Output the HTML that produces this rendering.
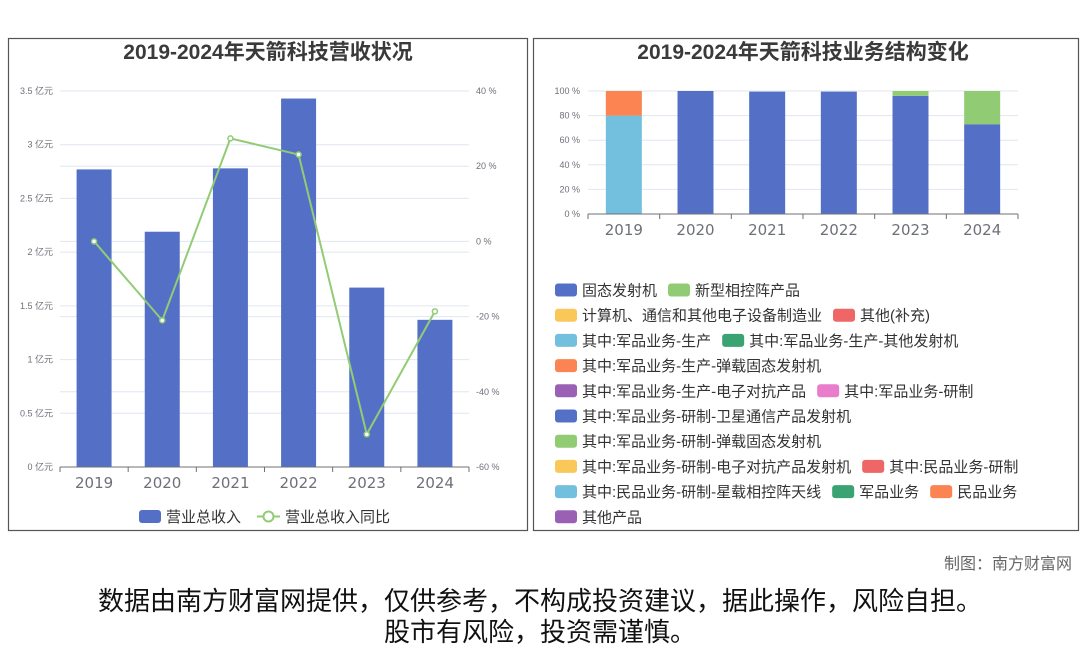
<!DOCTYPE html>
<html><head><meta charset="utf-8"><style>
html,body{margin:0;padding:0;background:#fff;}
body{width:1080px;height:646px;position:relative;overflow:hidden;font-family:"Liberation Sans","Noto Sans CJK SC",sans-serif;}
svg{position:absolute;left:0;top:0;}
.foot{position:absolute;left:0;width:1080px;text-align:center;color:#111;font-size:26px;font-family:"Liberation Sans","Noto Sans CJK SC",sans-serif;}
</style></head><body>
<svg id="svg" width="1080" height="646" font-family="Liberation Sans, Noto Sans CJK SC, sans-serif"></svg>
<div class="foot" style="top:550px;text-align:right;width:1072px;font-size:16px;color:#666">制图：南方财富网</div>
<div class="foot" style="top:581px">数据由南方财富网提供，仅供参考，不构成投资建议，据此操作，风险自担。</div>
<div class="foot" style="top:612px">股市有风险，投资需谨慎。</div>
<script>
const years=['2019','2020','2021','2022','2023','2024'];
const revenue=[2.77,2.19,2.78,3.43,1.67,1.37];
const growth=[0,-21,27.4,23.1,-51.3,-18.6];
const leftTicks=[0,0.5,1,1.5,2,2.5,3,3.5];
const rightTicks=[-60,-40,-20,0,20,40];
const seriesNames=['固态发射机','新型相控阵产品','其中:军品业务-生产','其中:军品业务-生产-弹载固态发射机'];
const sharePrimary=[0,100,99.5,99.5,96,73];
const shareNew=[0,0,0,0,4,27];
const shareMilProd=[80,0,0,0,0,0];
const shareMissile=[20,0,0,0,0,0];
const pctTicks=[0,20,40,60,80,100];
const legendItems=[['固态发射机','#5470c6'],['新型相控阵产品','#91cc75'],['计算机、通信和其他电子设备制造业','#fac858'],['其他(补充)','#ee6666'],['其中:军品业务-生产','#73c0de'],['其中:军品业务-生产-其他发射机','#3ba272'],['其中:军品业务-生产-弹载固态发射机','#fc8452'],['其中:军品业务-生产-电子对抗产品','#9a60b4'],['其中:军品业务-研制','#ea7ccc'],['其中:军品业务-研制-卫星通信产品发射机','#5470c6'],['其中:军品业务-研制-弹载固态发射机','#91cc75'],['其中:军品业务-研制-电子对抗产品发射机','#fac858'],['其中:民品业务-研制','#ee6666'],['其中:民品业务-研制-星载相控阵天线','#73c0de'],['军品业务','#3ba272'],['民品业务','#fc8452'],['其他产品','#9a60b4']];
const legendRows=[[0,1],[2,3],[4,5],[6],[7,8],[9],[10],[11,12],[13,14,15],[16]];

const S=document.getElementById('svg');
const NS='http://www.w3.org/2000/svg';
function mk(t,a,txt){const e=document.createElementNS(NS,t);for(const k in a)e.setAttribute(k,a[k]);if(txt!==undefined)e.textContent=txt;S.appendChild(e);return e;}
const TICKFONT='DejaVu Sans, Liberation Sans, sans-serif';

let p=mk('rect',{x:8.5,y:38.5,width:519,height:492,fill:'none',stroke:'#555','stroke-width':1.2});


p=mk('rect',{x:533.5,y:38.5,width:545,height:492,fill:'none',stroke:'#555','stroke-width':1.2});



let t=mk('text',{x:268,y:59,'text-anchor':'middle','font-size':21,'font-weight':'bold',fill:'#3a3a3a'},'2019-2024年天箭科技营收状况');


t=mk('text',{x:803,y:59,'text-anchor':'middle','font-size':21,'font-weight':'bold',fill:'#3a3a3a'},'2019-2024年天箭科技业务结构变化');



const L={x0:60,x1:469,y0:467,y1:91};
const yL=v=>L.y0-(v/3.5)*(L.y0-L.y1);
const yR=v=>L.y0-((v+60)/100)*(L.y0-L.y1);
const bw=(L.x1-L.x0)/years.length;
const xc=i=>L.x0+bw*(i+0.5);
leftTicks.forEach(v=>{const y=yL(v);
 if(v>0){const g=mk('line',{x1:L.x0,x2:L.x1,y1:y,y2:y,stroke:'#e0e6f1'});}
 const e=mk('text',{x:53,y:y+3,'text-anchor':'end','font-size':9,fill:'#6e7079'},v+' 亿元');
 
 });
rightTicks.forEach(v=>{const y=yR(v);
 if(v>-60){const g=mk('line',{x1:L.x0,x2:L.x1,y1:y,y2:y,stroke:'#e0e6f1'});}
 const e=mk('text',{x:476,y:y+3,'font-size':9,fill:'#6e7079'},v+' %');
 
 });
revenue.forEach((v,i)=>{const w=35;
 const r=mk('rect',{x:xc(i)-w/2,y:yL(v),width:w,height:L.y0-yL(v),fill:'#5470c6'});
 
 });
let ax=mk('line',{x1:L.x0,x2:L.x1,y1:L.y0,y2:L.y0,stroke:'#6e7079'});


years.forEach((yv,i)=>{
 mk('line',{x1:L.x0+bw*i,x2:L.x0+bw*i,y1:L.y0,y2:L.y0+5,stroke:'#6e7079'});
 const e=mk('text',{x:xc(i),y:L.y0+21,'text-anchor':'middle','font-size':15,fill:'#6e7079','font-family':TICKFONT},yv);
 
 });
mk('line',{x1:L.x1,x2:L.x1,y1:L.y0,y2:L.y0+5,stroke:'#6e7079'});
let pl=mk('polyline',{points:growth.map((v,i)=>xc(i)+','+yR(v)).join(' '),fill:'none',stroke:'#91cc75','stroke-width':2});


growth.forEach((v,i)=>{const c=mk('circle',{cx:xc(i),cy:yR(v),r:2.5,fill:'#fff',stroke:'#91cc75','stroke-width':1.5});
 
 });
let lg=mk('rect',{x:139,y:510,width:22,height:13,rx:3,fill:'#5470c6'});


t=mk('text',{x:166,y:522,'font-size':15,fill:'#333'},'营业总收入');


mk('line',{x1:257,x2:280,y1:516.5,y2:516.5,stroke:'#91cc75','stroke-width':2});
mk('circle',{cx:268.5,cy:516.5,r:5,fill:'#fff',stroke:'#91cc75','stroke-width':2});
t=mk('text',{x:285,y:522,'font-size':15,fill:'#333'},'营业总收入同比');



const R={x0:588,x1:1018,y0:214,y1:91};
const yP=v=>R.y0-(v/100)*(R.y0-R.y1);
const rbw=(R.x1-R.x0)/years.length;
const rxc=i=>R.x0+rbw*(i+0.5);
pctTicks.forEach(v=>{const y=yP(v);
 if(v>0){const g=mk('line',{x1:R.x0,x2:R.x1,y1:y,y2:y,stroke:'#e0e6f1'});}
 const e=mk('text',{x:580,y:y+3,'text-anchor':'end','font-size':9,fill:'#6e7079'},v+' %');
 
 });
const stacks=[[sharePrimary,'#5470c6','primary'],[shareMilProd,'#73c0de','mil-prod'],[shareNew,'#91cc75','new-array'],[shareMissile,'#fc8452','missile']];
years.forEach((yv,i)=>{let acc=0;
 stacks.forEach(([arr,col,nm])=>{const v=arr[i];if(v<=0)return;
  const r=mk('rect',{x:rxc(i)-18,y:yP(acc+v),width:36,height:yP(acc)-yP(acc+v),fill:col});
  
  
  acc+=v;});});
ax=mk('line',{x1:R.x0,x2:R.x1,y1:R.y0,y2:R.y0,stroke:'#6e7079'});


years.forEach((yv,i)=>{
 mk('line',{x1:R.x0+rbw*i,x2:R.x0+rbw*i,y1:R.y0,y2:R.y0+5,stroke:'#6e7079'});
 const e=mk('text',{x:rxc(i),y:R.y0+21,'text-anchor':'middle','font-size':15,fill:'#6e7079','font-family':TICKFONT},yv);
 
 });
mk('line',{x1:R.x1,x2:R.x1,y1:R.y0,y2:R.y0+5,stroke:'#6e7079'});

legendRows.forEach((row,ri)=>{let x=555;const y=290+ri*25.2;
 row.forEach(idx=>{const [name,col]=legendItems[idx];
  const s=mk('rect',{x:x,y:y-6.5,width:22,height:13,rx:3,fill:col});
  
  
  const e=mk('text',{x:x+27,y:y+5.5,'font-size':15,fill:'#333'},name);
  
  
  x+=27+e.getComputedTextLength()+11;});});
</script>
</body></html>
